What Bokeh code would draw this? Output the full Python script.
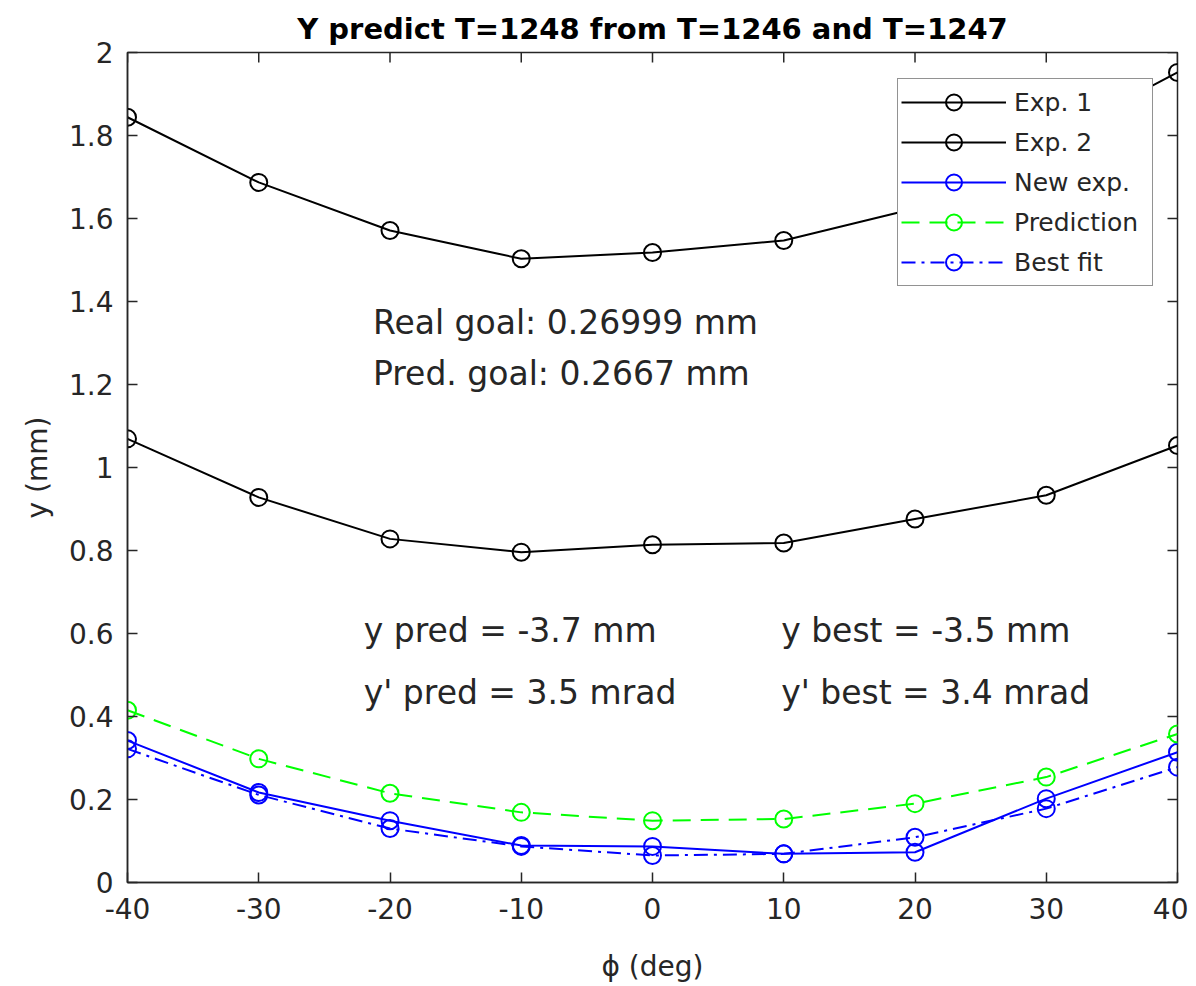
from bokeh.plotting import figure
from bokeh.models import (Range1d, FixedTicker, Label, Legend, LegendItem)
from bokeh.embed import file_html
from bokeh.resources import INLINE

# ---- data ----
phi = [-40, -30, -20, -10, 0, 10, 20, 30, 40]
exp1 = [1.844, 1.687, 1.571, 1.503, 1.518, 1.547, 1.624, 1.785, 1.952]
exp2 = [1.069, 0.928, 0.828, 0.796, 0.814, 0.818, 0.876, 0.933, 1.053]
new_exp = [0.342, 0.217, 0.149, 0.089, 0.087, 0.069, 0.073, 0.202, 0.314]
prediction = [0.415, 0.298, 0.215, 0.169, 0.149, 0.153, 0.190, 0.254, 0.358]
best_fit = [0.322, 0.211, 0.130, 0.087, 0.065, 0.069, 0.109, 0.178, 0.278]

x_ticks = [-40, -30, -20, -10, 0, 10, 20, 30, 40]
x_tick_labels = {-40: "-40", -30: "-30", -20: "-20", -10: "-10", 0: "0",
                 10: "10", 20: "20", 30: "30", 40: "40"}
y_ticks = [0, 0.2, 0.4, 0.6, 0.8, 1, 1.2, 1.4, 1.6, 1.8, 2]
y_tick_labels = {0: "0", 0.2: "0.2", 0.4: "0.4", 0.6: "0.6", 0.8: "0.8", 1: "1",
                 1.2: "1.2", 1.4: "1.4", 1.6: "1.6", 1.8: "1.8", 2: "2"}

title_text = "Y predict T=1248 from T=1246 and T=1247"
notes_top = ["Real goal: 0.26999 mm", "Pred. goal: 0.2667 mm"]
notes_left = ["y pred = -3.7 mm", "y' pred = 3.5 mrad"]
notes_right = ["y best = -3.5 mm", "y' best = 3.4 mrad"]

FONT = "DejaVu Sans"
TXT = "#262626"

p = figure(output_backend="svg", toolbar_location=None,
           frame_width=1050, frame_height=830,
           min_border_left=127, min_border_right=11,
           min_border_top=52, min_border_bottom=100,
           x_range=Range1d(-40, 40), y_range=Range1d(0, 2),
           title=title_text)
p.title.align = "center"
p.title.vertical_align = "top"
p.title.text_font = FONT
p.title.text_font_size = "29px"
p.title.text_font_style = "bold"
p.title.text_color = "black"
p.title.standoff = 10
p.grid.visible = False
p.background_fill_color = "white"
p.border_fill_color = "white"
p.outline_line_color = TXT
p.outline_line_width = 1.5

for ax in p.xaxis + p.yaxis:
    ax.major_tick_in = 10
    ax.major_tick_out = 0
    ax.minor_tick_line_color = None
    ax.axis_line_color = TXT
    ax.axis_line_width = 1.5
    ax.major_tick_line_color = TXT
    ax.major_tick_line_width = 1.5
    ax.major_label_text_font = FONT
    ax.major_label_text_font_size = "28px"
    ax.major_label_text_color = TXT
    ax.axis_label_text_font = FONT
    ax.axis_label_text_font_size = "28px"
    ax.axis_label_text_font_style = "normal"
    ax.axis_label_text_color = TXT

p.xaxis.ticker = FixedTicker(ticks=x_ticks)
p.xaxis.major_label_overrides = x_tick_labels
p.yaxis.ticker = FixedTicker(ticks=y_ticks)
p.yaxis.major_label_overrides = y_tick_labels
p.xaxis.axis_label = "ϕ (deg)"
p.yaxis.axis_label = "y (mm)"
p.xaxis.major_label_standoff = 15
p.yaxis.major_label_standoff = 14
p.xaxis.axis_label_standoff = 28
p.yaxis.axis_label_standoff = 12

# inward ticks on the top and right edges of the box (from the tick lists)
tick_len_y = 10 / 415.0
tick_len_x = 10 / 13.125
p.segment(x0=x_ticks, y0=[2] * len(x_ticks), x1=x_ticks,
          y1=[2 - tick_len_y] * len(x_ticks), line_color=TXT, line_width=1.5)
p.segment(x0=[40] * len(y_ticks), y0=y_ticks, x1=[40 - tick_len_x] * len(y_ticks),
          y1=y_ticks, line_color=TXT, line_width=1.5)

MS = 17
series = [
    ("Exp. 1", exp1, "black", "solid"),
    ("Exp. 2", exp2, "black", "solid"),
    ("New exp.", new_exp, "#0000ff", "solid"),
    ("Prediction", prediction, "#00ff00", "18 10"),
    ("Best fit", best_fit, "#0000ff", "14 6 3 6"),
]
items = []
for name, ys, col, dash in series:
    lr = p.line(phi, ys, line_color=col, line_width=2, line_dash=dash)
    sr = p.scatter(phi, ys, marker="circle", size=MS, fill_color=None,
                   line_color=col, line_width=2)
    items.append(LegendItem(label=name, renderers=[lr, sr]))

legend = Legend(items=items, location=(770, 596), orientation="vertical",
                label_text_font=FONT, label_text_font_size="25px",
                label_text_color=TXT, glyph_width=105, glyph_height=40,
                label_height=40, label_width=135, spacing=0, padding=3,
                margin=0, label_standoff=8, border_line_color=TXT,
                border_line_width=1.5, background_fill_color="white",
                background_fill_alpha=1.0)
p.add_layout(legend)

# annotations
ann_font = "33px"
for txt, xx, yy in [(notes_top[0], -21.3, 1.35), (notes_top[1], -21.3, 1.227),
                    (notes_left[0], -22.0, 0.607), (notes_left[1], -22.0, 0.458),
                    (notes_right[0], 9.8, 0.607), (notes_right[1], 9.8, 0.458)]:
    p.add_layout(Label(x=xx, y=yy, text=txt, text_align="left", text_baseline="middle",
                       text_font=FONT, text_font_size=ann_font, text_color=TXT))

open("out.html", "w").write(file_html(p, INLINE))
